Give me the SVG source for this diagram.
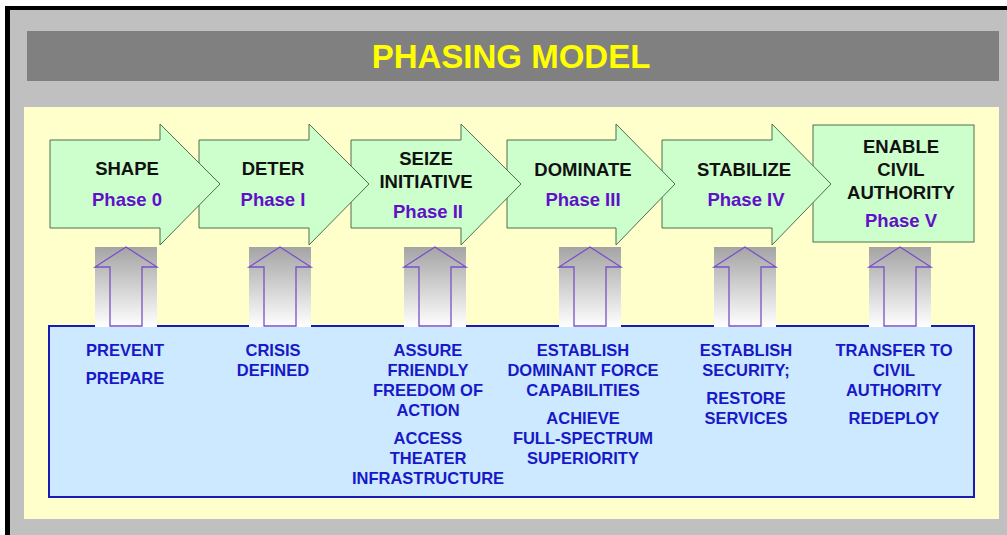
<svg xmlns="http://www.w3.org/2000/svg" width="1007" height="535" viewBox="0 0 1007 535">
  <defs>
    <linearGradient id="upGrad" x1="0" y1="0" x2="0" y2="1">
      <stop offset="0" stop-color="#a4a4a4"/>
      <stop offset="1" stop-color="#ffffff"/>
    </linearGradient>
    <style>
      .phase { fill: #ccffcc; stroke: #4f6f4f; stroke-width: 1; }
      .lbl { font-family: "Liberation Sans", Arial, sans-serif; font-weight: bold; font-size: 18.5px; fill: #111111; text-anchor: middle; }
      .ph { font-family: "Liberation Sans", Arial, sans-serif; font-weight: bold; font-size: 18.5px; fill: #6010c8; text-anchor: middle; }
      .task { font-family: "Liberation Sans", Arial, sans-serif; font-weight: bold; font-size: 16.5px; fill: #1818c8; text-anchor: middle; }
      .upbg { fill: url(#upGrad); stroke: none; }
      .uparrow { fill: none; stroke: #7a50c8; stroke-width: 1.3; }
    </style>
  </defs>

  <!-- frame -->
  <rect x="0" y="0" width="1007" height="535" fill="#ffffff"/>
  <rect x="5" y="6" width="1002" height="529" fill="#000000"/>
  <rect x="10" y="10" width="997" height="525" fill="#c0c0c0"/>
  <rect x="27" y="31" width="972" height="50" fill="#808080"/>
  <text x="511" y="68" font-family="'Liberation Sans', Arial, sans-serif" font-weight="bold" font-size="33" fill="#ffff00" text-anchor="middle">PHASING MODEL</text>
  <rect x="24" y="107" width="975" height="412" fill="#ffffcc"/>

  <!-- bottom task box -->
  <g id="tasks">
    <rect x="49" y="326" width="925" height="171" fill="#cce9ff" stroke="#1a1ab4" stroke-width="2"/>
  </g>

  <!-- connectors: up arrows -->
  <g id="connectors">
    <rect class="upbg" x="95" y="247" width="62" height="80"/>
    <path class="uparrow" d="M126,247 L157,267 H142 V326 H110 V267 H95 Z"/>
    <rect class="upbg" x="249" y="247" width="62" height="80"/>
    <path class="uparrow" d="M280,247 L311,267 H296 V326 H264 V267 H249 Z"/>
    <rect class="upbg" x="404" y="247" width="62" height="80"/>
    <path class="uparrow" d="M435,247 L466,267 H451 V326 H419 V267 H404 Z"/>
    <rect class="upbg" x="559" y="247" width="62" height="80"/>
    <path class="uparrow" d="M590,247 L621,267 H606 V326 H574 V267 H559 Z"/>
    <rect class="upbg" x="714" y="247" width="62" height="80"/>
    <path class="uparrow" d="M745,247 L776,267 H761 V326 H729 V267 H714 Z"/>
    <rect class="upbg" x="869" y="247" width="62" height="80"/>
    <path class="uparrow" d="M900,247 L931,267 H916 V326 H884 V267 H869 Z"/>
  </g>

  <!-- phases drawn last-to-first so earlier arrow heads overlap -->
  <g id="phase5">
    <rect class="phase" x="813" y="125" width="161" height="117"/>
    <text class="lbl" x="901" y="153">ENABLE</text>
    <text class="lbl" x="901" y="176">CIVIL</text>
    <text class="lbl" x="901" y="199">AUTHORITY</text>
    <text class="ph" x="901" y="227">Phase V</text>
  </g>
  <g id="phase4">
    <path class="phase" d="M662,140 H772 V124 L831,184 L772,245 V228 H662 Z"/>
    <text class="lbl" x="744" y="176">STABILIZE</text>
    <text class="ph" x="746" y="206">Phase IV</text>
  </g>
  <g id="phase3">
    <path class="phase" d="M507,140 H616 V124 L675,184 L616,245 V228 H507 Z"/>
    <text class="lbl" x="583" y="176">DOMINATE</text>
    <text class="ph" x="583" y="206">Phase III</text>
  </g>
  <g id="phase2">
    <path class="phase" d="M351,140 H461 V124 L521,184 L461,245 V228 H351 Z"/>
    <text class="lbl" x="426" y="165">SEIZE</text>
    <text class="lbl" x="426" y="188">INITIATIVE</text>
    <text class="ph" x="428" y="218">Phase II</text>
  </g>
  <g id="phase1">
    <path class="phase" d="M199,140 H309 V124 L369,184 L309,245 V228 H199 Z"/>
    <text class="lbl" x="273" y="175">DETER</text>
    <text class="ph" x="273" y="206">Phase I</text>
  </g>
  <g id="phase0">
    <path class="phase" d="M50,140 H160 V124 L220,184 L160,245 V228 H50 Z"/>
    <text class="lbl" x="127" y="175">SHAPE</text>
    <text class="ph" x="127" y="206">Phase 0</text>
  </g>

  <!-- task texts -->
  <g id="task0">
    <text class="task" x="125" y="356">PREVENT</text>
    <text class="task" x="125" y="384">PREPARE</text>
  </g>
  <g id="task1">
    <text class="task" x="273" y="356">CRISIS</text>
    <text class="task" x="273" y="376">DEFINED</text>
  </g>
  <g id="task2">
    <text class="task" x="428" y="356">ASSURE</text>
    <text class="task" x="428" y="376">FRIENDLY</text>
    <text class="task" x="428" y="396">FREEDOM OF</text>
    <text class="task" x="428" y="416">ACTION</text>
    <text class="task" x="428" y="444">ACCESS</text>
    <text class="task" x="428" y="464">THEATER</text>
    <text class="task" x="428" y="484">INFRASTRUCTURE</text>
  </g>
  <g id="task3">
    <text class="task" x="583" y="356">ESTABLISH</text>
    <text class="task" x="583" y="376">DOMINANT FORCE</text>
    <text class="task" x="583" y="396">CAPABILITIES</text>
    <text class="task" x="583" y="424">ACHIEVE</text>
    <text class="task" x="583" y="444">FULL-SPECTRUM</text>
    <text class="task" x="583" y="464">SUPERIORITY</text>
  </g>
  <g id="task4">
    <text class="task" x="746" y="356">ESTABLISH</text>
    <text class="task" x="746" y="376">SECURITY;</text>
    <text class="task" x="746" y="404">RESTORE</text>
    <text class="task" x="746" y="424">SERVICES</text>
  </g>
  <g id="task5">
    <text class="task" x="894" y="356">TRANSFER TO</text>
    <text class="task" x="894" y="376">CIVIL</text>
    <text class="task" x="894" y="396">AUTHORITY</text>
    <text class="task" x="894" y="424">REDEPLOY</text>
  </g>
</svg>
